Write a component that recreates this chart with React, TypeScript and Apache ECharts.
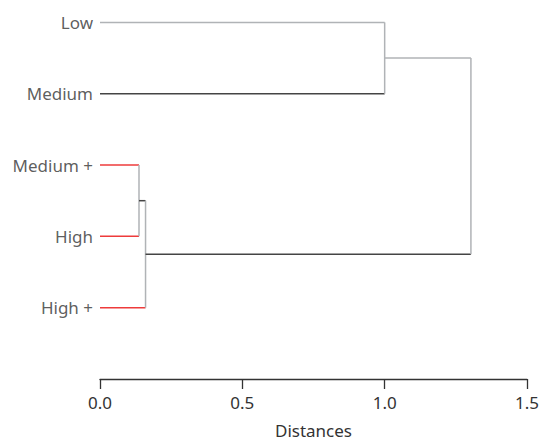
import React, { useEffect, useRef } from "react";
import * as echarts from "echarts";

// Leaves (top to bottom)
const leaves = ["Low", "Medium", "Medium +", "High", "High +"];
// Merges: child ids (0..4 leaves, 5+ merged clusters in order), distance
const mergeA = [2, 5, 0, 7];
const mergeB = [3, 4, 1, 6];
const mergeDist = [0.137, 0.16, 1.0, 1.303];
// colour of the horizontal link of each child
const colorA = ["red", "dark", "gray", "gray"];
const colorB = ["red", "red", "dark", "dark"];
const xTicks = [0, 0.5, 1.0, 1.5];

const COLORS: Record<string, string> = {
  red: "#ee3b3b",
  dark: "#444444",
  gray: "#b0b3b6",
};

function buildSegments() {
  const ys: number[] = leaves.map((_, i) => i);
  const xs: number[] = leaves.map(() => 0);
  const segs: { x1: number; y1: number; x2: number; y2: number; c: string }[] = [];
  mergeDist.forEach((d, m) => {
    const a = mergeA[m];
    const b = mergeB[m];
    segs.push({ x1: xs[a], y1: ys[a], x2: d, y2: ys[a], c: COLORS[colorA[m]] });
    segs.push({ x1: xs[b], y1: ys[b], x2: d, y2: ys[b], c: COLORS[colorB[m]] });
    segs.push({ x1: d, y1: ys[a], x2: d, y2: ys[b], c: COLORS.gray });
    ys.push((ys[a] + ys[b]) / 2);
    xs.push(d);
  });
  return segs;
}

export default function App() {
  const ref = useRef<HTMLDivElement>(null);
  useEffect(() => {
    if (!ref.current) return;
    const chart = echarts.init(ref.current, undefined, { renderer: "svg" });
    const segs = buildSegments();
    chart.setOption({
      animation: false,
      grid: { left: 100, right: 13, top: 1, height: 378, outerBoundsMode: "none", containLabel: false },
      xAxis: {
        type: "value",
        position: "bottom",
        min: 0,
        max: 1.5,
        interval: 0.5,
        name: "Distances",
        nameLocation: "middle",
        nameGap: 45,
        nameTextStyle: { color: "#333", fontSize: 17, lineHeight: 12, fontFamily: "Noto Sans" },
        axisLine: { show: true, onZero: false, lineStyle: { color: "#333", width: 1.3 } },
        axisTick: { show: true, length: 10, lineStyle: { color: "#333", width: 1.3 } },
        splitLine: { show: false },
        axisLabel: {
          color: "#333",
          fontSize: 17,
          fontFamily: "Noto Sans",
          margin: 15,
          formatter: (v: number) => (xTicks.includes(v) ? v.toFixed(1) : ""),
        },
      },
      yAxis: {
        type: "value",
        inverse: true,
        min: -0.3,
        max: 5,
        show: false,
      },
      series: [
        {
          type: "custom",
          renderItem: (params: any, api: any) => {
            const s = segs[params.dataIndex];
            const p1 = api.coord([s.x1, s.y1]);
            const p2 = api.coord([s.x2, s.y2]);
            return {
              type: "line",
              shape: { x1: p1[0], y1: p1[1], x2: p2[0], y2: p2[1] },
              style: { stroke: s.c, lineWidth: 1.5 },
            };
          },
          data: segs.map((s) => [s.x1, s.y1, s.x2, s.y2]),
          encode: { x: [0, 2], y: [1, 3] },
          silent: true,
        },
        {
          type: "scatter",
          symbolSize: 0,
          data: leaves.map((n, i) => ({ value: [0, i], name: n })),
          label: {
            show: true,
            position: "left",
            distance: 7,
            formatter: (p: any) => p.name,
            color: "#333",
            fontSize: 17,
            fontFamily: "Noto Sans",
          },
          silent: true,
        },
      ],
    });
    return () => chart.dispose();
  }, []);
  return (
    <div
      ref={ref}
      style={{ position: "absolute", left: 0, top: 0, width: 540, height: 441 }}
    />
  );
}
